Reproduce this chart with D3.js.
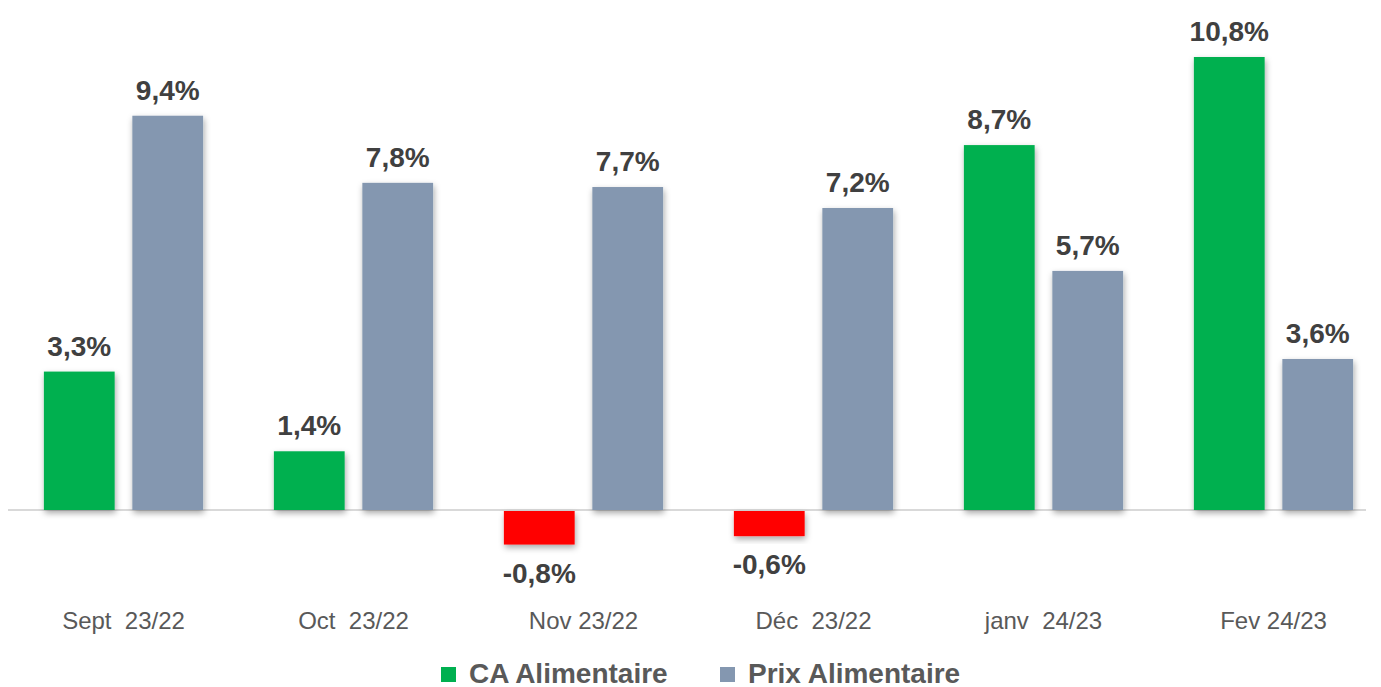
<!DOCTYPE html>
<html lang="fr">
<head>
<meta charset="utf-8">
<script src="https://d3js.org/d3.v7.min.js"></script>
<style>
  body { margin: 0; background: #fff; }
  svg { display: block; font-family: "Liberation Sans", Arial, sans-serif; }
  text { white-space: pre; }
</style>
</head>
<body>
<svg id="chart"></svg>
<script>
var months = ["Sept  23/22", "Oct  23/22", "Nov 23/22", "Déc  23/22", "janv  24/23", "Fev 24/23"];
var caAlim = [3.3, 1.4, -0.8, -0.6, 8.7, 10.8];
var prixAlim = [9.4, 7.8, 7.7, 7.2, 5.7, 3.6];
var seriesNames = ["CA Alimentaire", "Prix Alimentaire"];
var seriesColors = ["#00b050", "#8497b0"];
var negColor = "#ff0000";

var width = 1381, height = 687;
var svg = d3.select("#chart").attr("width", width).attr("height", height);

var defs = svg.append("defs");
var f = defs.append("filter").attr("id", "shadow")
  .attr("x", "-20%").attr("y", "-20%").attr("width", "150%").attr("height", "150%");
f.append("feDropShadow").attr("dx", 1).attr("dy", 3).attr("stdDeviation", 3)
  .attr("flood-color", "#000").attr("flood-opacity", 0.35);

var x0 = d3.scaleBand().domain(months).range([8.5, 1388.5]);
var x1 = d3.scaleBand().domain(seriesNames).range([0, x0.bandwidth()])
  .paddingInner(0.2).paddingOuter(0.4);
var y = d3.scaleLinear().domain([0, 10.8]).range([510, 57]);

var rows = months.map(function(m, i) {
  return [
    { m: m, s: seriesNames[0], v: caAlim[i] },
    { m: m, s: seriesNames[1], v: prixAlim[i] }
  ];
});

// zero line
svg.append("line")
  .attr("x1", 8).attr("x2", 1366)
  .attr("y1", y(0)).attr("y2", y(0))
  .attr("stroke", "#d9d9d9").attr("stroke-width", 2);

var groups = svg.selectAll("g.grp").data(rows).enter().append("g")
  .attr("class", "grp")
  .attr("transform", function(d) { return "translate(" + x0(d[0].m) + ",0)"; });

groups.selectAll("rect").data(function(d) { return d; }).enter().append("rect")
  .attr("x", function(d) { return x1(d.s); })
  .attr("width", x1.bandwidth())
  .attr("y", function(d) { return d.v >= 0 ? y(d.v) : y(0) + 1; })
  .attr("height", function(d) { return Math.abs(y(d.v) - y(0)); })
  .attr("fill", function(d, i) { return d.v < 0 ? negColor : seriesColors[i]; })
  .attr("filter", "url(#shadow)");

groups.selectAll("text.val").data(function(d) { return d; }).enter().append("text")
  .attr("class", "val")
  .attr("x", function(d) { return x1(d.s) + x1.bandwidth() / 2; })
  .attr("y", function(d) { return d.v >= 0 ? y(d.v) - 16 : y(d.v) + 39; })
  .attr("text-anchor", "middle")
  .attr("font-size", 28).attr("font-weight", "bold").attr("fill", "#404040")
  .text(function(d) { return d.v.toFixed(1).replace(".", ",") + "%"; });

// category labels
var xAxis = d3.axisBottom(x0).tickSize(0).tickPadding(0);
var ax = svg.append("g").attr("transform", "translate(0,629)").call(xAxis);
ax.select(".domain").remove();
ax.selectAll("text")
  .attr("font-family", "Liberation Sans, Arial, sans-serif")
  .attr("font-size", 24).attr("fill", "#595959").attr("y", 0).attr("dy", 0);

// legend
var legX = [441, 720];
var leg = svg.selectAll("g.leg").data(seriesNames).enter().append("g")
  .attr("class", "leg")
  .attr("transform", function(d, i) { return "translate(" + legX[i] + ",667)"; });
leg.append("rect").attr("width", 15).attr("height", 15)
  .attr("fill", function(d, i) { return seriesColors[i]; });
leg.append("text").attr("x", 28).attr("y", 16)
  .attr("font-size", 28).attr("font-weight", "bold").attr("fill", "#595959")
  .text(function(d) { return d; });
</script>
</body>
</html>
